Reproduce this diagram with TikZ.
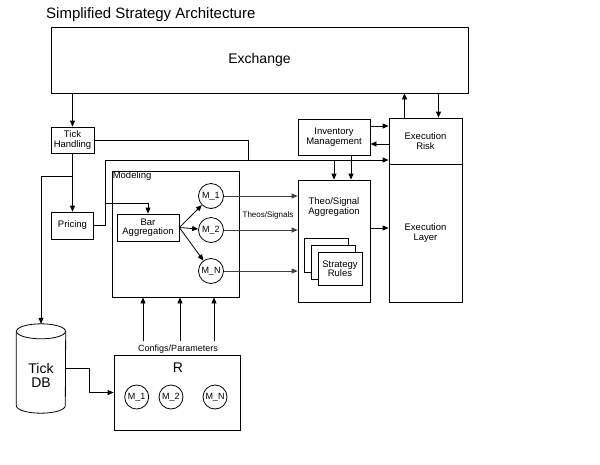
\documentclass[tikz,border=0pt]{standalone}
\usepackage{fontspec}
\setmainfont{Liberation Sans}
\usetikzlibrary{arrows.meta}
\newcommand{\fsz}[1]{\fontsize{#1}{#1}\selectfont}
\begin{document}
\begin{tikzpicture}[x=1pt,y=-1pt,
  box/.style={draw,line width=0.8pt,fill=white,inner sep=1pt,align=center,font=\fsz{9.5}},
  mod/.style={draw,circle,line width=0.8pt,minimum size=25pt,inner sep=0pt,font=\fsz{9}},
  arr/.style={line width=0.8pt,-{Triangle[length=6pt,width=5pt]}}]
  \useasboundingbox (0,0) rectangle (600,464);
  \node[anchor=west,inner sep=0pt,font=\fsz{15}] (title) at (46,15) {Simplified Strategy Architecture};
  \node[box,minimum width=417pt,minimum height=66pt,font=\fsz{14}] (exch) at (259.5,60) {Exchange};
  \node[box,minimum width=43pt,minimum height=26pt] (tick) at (72.5,140) {Tick\\Handling};
  \node[box,minimum width=42pt,minimum height=27pt] (pricing) at (72.5,225.5) {Pricing};
  \node[box,minimum width=72pt,minimum height=36pt] (inv) at (334,137) {Inventory\\Management};
  \node[box,minimum width=73pt,minimum height=46pt] (execrisk) at (425.5,141) {Execution\\Risk};
  \node[box,minimum width=73pt,minimum height=138pt] (execlayer) at (425.5,233) {Execution\\Layer};
  \node[box,minimum width=72pt,minimum height=122pt] (theo) at (334,241) {};
  \node[align=center,font=\fsz{9.5}] (theolabel) at (334,207) {Theo/Signal\\Aggregation};
  \foreach \d in {0,7}
    \draw[line width=0.8pt,fill=white] (304+\d,238+\d) rectangle ++(44,34);
  \node[box,minimum width=44pt,minimum height=33pt] (rules) at (340,268.5) {Strategy\\Rules};
  \node[box,minimum width=127pt,minimum height=126pt] (modeling) at (175.5,234) {};
  \node[anchor=north west,inner sep=1pt,font=\fsz{9.5}] (modlabel) at (modeling.north west) {Modeling};
  \node[box,minimum width=62pt,minimum height=27pt] (bar) at (148,227.5) {Bar\\Aggregation};
  \node[mod] (m1) at (211,196) {M\_1};
  \node[mod] (m2) at (211,230) {M\_2};
  \node[mod] (mn) at (211,271) {M\_N};
  \node[font=\fsz{8}] (theos) at (268,215) {Theos/Signals};
  \node[minimum width=49pt,minimum height=89pt,inner sep=0pt] (tickdb) at (41,368.5) {};
  \draw[line width=0.8pt] ([yshift=-7.5pt]tickdb.north) ellipse [x radius=24.5pt,y radius=7.5pt];
  \draw[line width=0.8pt] ([yshift=-7.5pt]tickdb.north west) -- ([yshift=7.5pt]tickdb.south west)
    arc[start angle=180,end angle=360,x radius=24.5pt,y radius=7.5pt] -- ([yshift=-7.5pt]tickdb.north east);
  \node[align=center,font=\fsz{14}] (dblabel) at (41,375.5) {Tick\\DB};
  \node[box,minimum width=126pt,minimum height=75pt] (rbox) at (177,392.5) {};
  \node[font=\fsz{14}] (rlabel) at (178,368) {R};
  \node[mod,minimum size=24pt] (r1) at (136.7,397) {M\_1};
  \node[mod,minimum size=24pt] (r2) at (171,397) {M\_2};
  \node[mod,minimum size=24pt] (rn) at (215,397) {M\_N};
  \node[font=\fsz{9}] (cfg) at (178,349) {Configs/Parameters};

  \coordinate (tj) at (248,160);
  \coordinate (pj) at (105.5,160);
  \coordinate (pb) at (105.5,203);
  \coordinate (tb) at (72.5,176);
  \draw[arr] (tick |- exch.south) -- (tick.north);
  \draw[arr] ([xshift=-21pt]execrisk.north) -- ([xshift=-21pt]execrisk.north |- exch.south);
  \draw[arr] ([xshift=13pt]execrisk.north |- exch.south) -- ([xshift=13pt]execrisk.north);
  \draw[arr] ([yshift=11pt]inv.east) -- ([yshift=11pt]inv.east -| execrisk.west);
  \draw[arr] ([yshift=-7pt]inv.east -| execrisk.west) -- ([yshift=-7pt]inv.east);
  \draw[arr] ([xshift=17pt]inv.south) -- ([xshift=17pt]inv.south |- theo.north);
  \draw[arr] (tick.east) -| (tj) -- (tj -| execrisk.west);
  \draw (pricing.east) -| (pj) -- (tj);
  \draw[arr] (tj -| theo.north) -- (theo.north);
  \draw[arr] (pb) -| (bar.north);
  \draw[arr] (tick.south) -- (pricing.north);
  \draw[arr] (tb) -| (tickdb.north);
  \draw[arr] (tickdb.east) -- ++(24,0) |- (rbox.west);
  \foreach \m in {m1,m2,mn}
    \draw[arr] (bar.east) -- (\m);
  \foreach \m in {m1,m2,mn}
    \draw[arr,black!75] (\m.east) -- (\m.east -| theo.west);
  \draw[arr] ([yshift=13pt]theo.east) -- ([yshift=13pt]theo.east -| execlayer.west);
  \foreach \x in {143,180,214}
    \draw[arr] (\x,0 |- cfg.north) -- (\x,0 |- modeling.south);
\end{tikzpicture}
\end{document}
